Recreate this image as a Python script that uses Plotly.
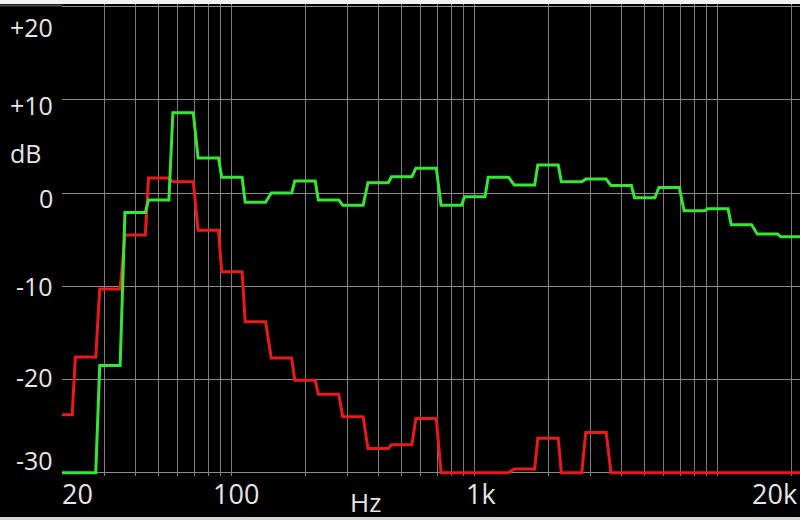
import numpy as np
import plotly.graph_objects as go

# 1/3-octave band centres (Hz) and band levels (dB)
band_hz = [20, 25, 31.5, 40, 50, 63, 80, 100, 125, 160, 200, 250, 315, 400, 500,
           630, 800, 1000, 1250, 1600, 2000, 2500, 3150, 4000, 5000, 6300, 8000,
           10000, 12500, 16000, 20000]
green_db = [-30, -30, -18.5, -2.1, -0.75, 8.6, 3.75, 1.7, -1.0, 0.0, 1.3, -0.75,
            -1.3, 1.1, 1.75, 2.65, -1.3, -0.4, 1.7, 0.85, 3.0, 1.2, 1.5, 0.8,
            -0.5, 0.6, -1.9, -1.7, -3.4, -4.4, -4.7]
red_db = [-23.8, -17.6, -10.3, -4.5, 1.6, 1.2, -4.0, -8.45, -13.8, -17.7, -20.1,
          -21.6, -24.0, -27.4, -27.0, -24.2, -30, -30, -30, -29.6, -26.3, -30,
          -25.7, -30, -30, -30, -30, -30, -30, -30, -30]

# grid and labels
grid_hz = [20, 30, 40, 50, 60, 70, 80, 90, 100, 200, 300, 400, 500, 600, 700,
           800, 900, 1000, 2000, 3000, 4000, 5000, 6000, 7000, 8000, 9000,
           10000, 20000]
grid_db = [20, 10, 0, -10, -20, -30]
y_labels = ["+20", "+10", "0", "-10", "-20", "-30"]
x_label_hz = [20, 100, 1000, 20000]
x_labels = ["20", "100", "1k", "20k"]

W, H = 800, 520
ML, MR, MT, MB = 62, 0, 4, 44
PW, PH = W - ML - MR, H - MT - MB
PX_PER_DECADE = 243.0
x_lo = np.log10(20)
x_hi = x_lo + PW / PX_PER_DECADE
y_range = [-30.36, 20.28]

FLAT = 0.042  # half-width of the flat part of each band, in decades


def band_steps(values):
    xs, ys = [], []
    for f, v in zip(band_hz, values):
        xs += [f * 10 ** -FLAT, f * 10 ** FLAT]
        ys += [v, v]
    return xs, ys


def ypaper(px):
    return (H - MB - px) / PH


def xpaper(px):
    return (px - ML) / PW


TEXT = "#e6e6e6"
FONT = "Open Sans"

fig = go.Figure()
for vals, col in [(red_db, "#ea1a1c"), (green_db, "#36e634")]:
    xs, ys = band_steps(vals)
    fig.add_trace(go.Scatter(x=xs, y=ys, mode="lines",
                             line=dict(color=col, width=3),
                             hoverinfo="skip", showlegend=False))

annotations = []
y_shift = {"+20": -20, "+10": -5, "0": -5, "-10": 0, "-20": 2, "-30": 13}
for v, t in zip(grid_db, y_labels):
    annotations.append(dict(x=xpaper(55), xref="paper", y=v, yref="y",
                            xanchor="right", yanchor="middle", text=t,
                            yshift=y_shift[t], showarrow=False,
                            font=dict(family=FONT, size=25, color=TEXT)))
annotations.append(dict(x=xpaper(8), xref="paper", y=ypaper(153), yref="paper",
                        xanchor="left", yanchor="middle", text="dB",
                        showarrow=False,
                        font=dict(family=FONT, size=25, color=TEXT)))
x_shift = {"20": 15, "100": 4, "1k": 6, "20k": -17}
for f, t in zip(x_label_hz, x_labels):
    annotations.append(dict(x=np.log10(f), xref="x", y=ypaper(493), yref="paper",
                            xanchor="center", yanchor="middle", text=t,
                            xshift=x_shift[t], showarrow=False,
                            font=dict(family=FONT, size=27, color=TEXT)))
annotations.append(dict(x=xpaper(365), xref="paper", y=ypaper(502), yref="paper",
                        xanchor="center", yanchor="middle", text="Hz",
                        showarrow=False,
                        font=dict(family=FONT, size=26, color=TEXT)))

shapes = [
    # light frame strips at top and bottom of the panel
    dict(type="rect", xref="paper", yref="paper", x0=xpaper(0), x1=1,
         y0=ypaper(4), y1=ypaper(0), fillcolor="#f2f2f2", line_width=0,
         layer="above"),
    dict(type="rect", xref="paper", yref="paper", x0=xpaper(0), x1=1,
         y0=ypaper(520), y1=ypaper(517), fillcolor="#d6d6d6", line_width=0,
         layer="above"),
    dict(type="line", xref="paper", yref="paper", x0=xpaper(0), x1=0,
         y0=ypaper(5.5), y1=ypaper(5.5), line=dict(color="#4a4a4a", width=2)),
]

fig.update_layout(
    width=W, height=H,
    margin=dict(l=ML, r=MR, t=MT, b=MB, pad=0),
    paper_bgcolor="black", plot_bgcolor="black",
    xaxis=dict(type="log", range=[x_lo, x_hi], tickvals=grid_hz,
               showticklabels=False, ticks="", showgrid=True,
               gridcolor="#7c7c7c", gridwidth=1, zeroline=False,
               showline=False, fixedrange=True),
    yaxis=dict(range=y_range, tickvals=grid_db, showticklabels=False,
               ticks="", showgrid=True, gridcolor="#8a8a8a", gridwidth=1,
               zeroline=False, showline=False, fixedrange=True),
    annotations=annotations,
    shapes=shapes,
)

fig.write_html("out.html")
